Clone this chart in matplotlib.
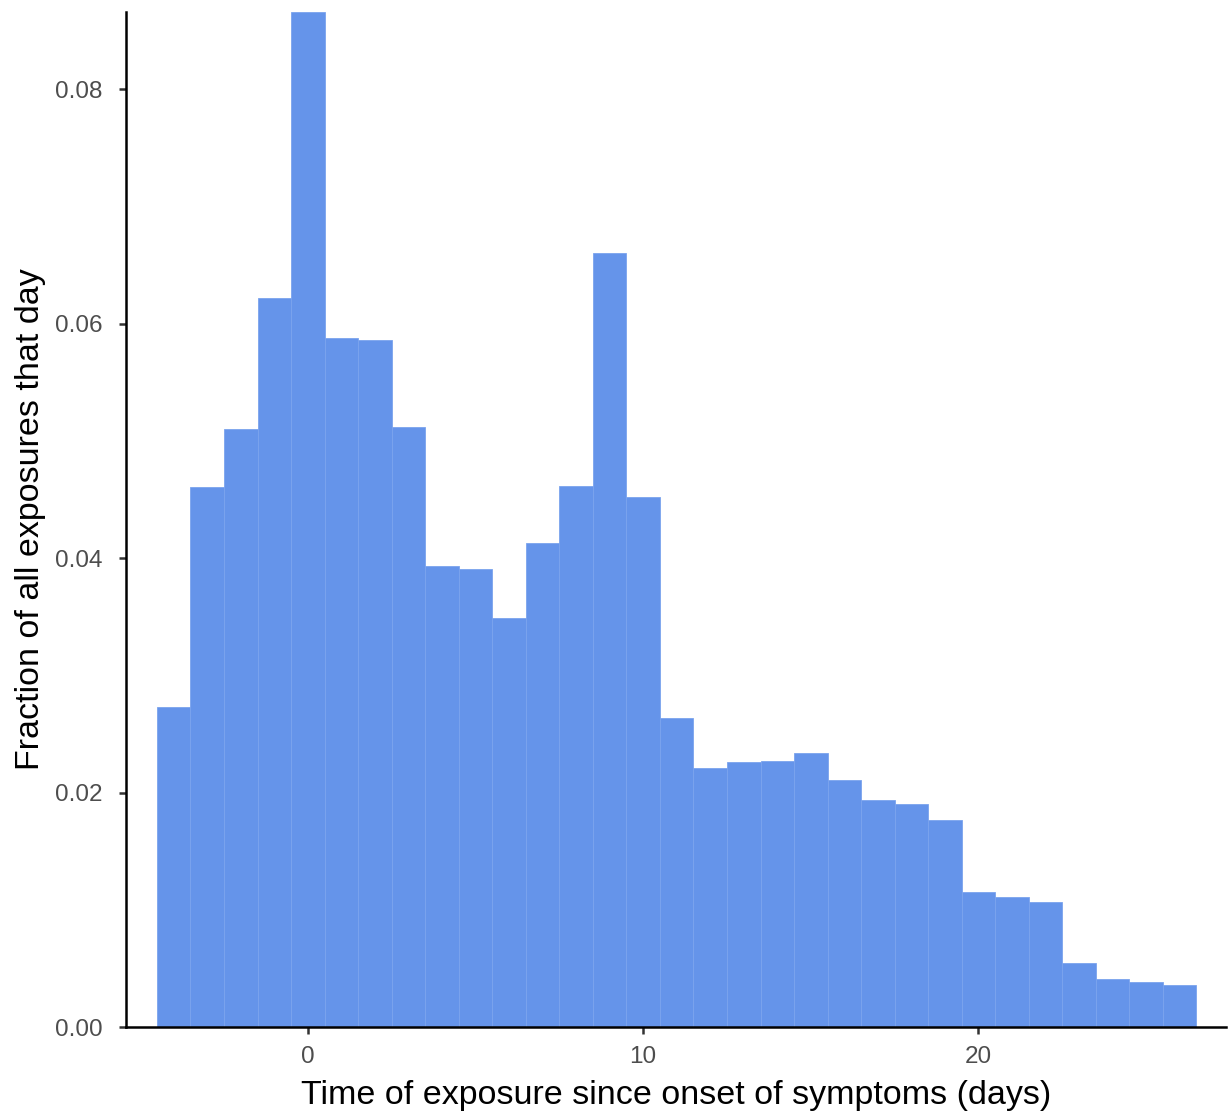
import matplotlib
matplotlib.use("Agg")
import matplotlib.pyplot as plt

days = list(range(-4, 27))
fractions = [0.0273, 0.0461, 0.0510, 0.0622, 0.0866, 0.0588, 0.0586, 0.0512,
             0.0393, 0.0391, 0.0349, 0.0413, 0.0462, 0.0660, 0.0452, 0.0264,
             0.0221, 0.0226, 0.0227, 0.0234, 0.0211, 0.0194, 0.0190, 0.0177,
             0.0115, 0.0111, 0.0107, 0.0055, 0.0041, 0.0038, 0.0036]
xticks = [0, 10, 20]
yticks = [0.00, 0.02, 0.04, 0.06, 0.08]

plt.rcParams["font.family"] = ["Liberation Sans", "DejaVu Sans"]

fig = plt.figure(figsize=(12.31, 11.15), dpi=100)
ax = fig.add_axes([0.1024, 0.0789, 0.8935, 0.9103])

ax.bar(days, fractions, width=1.0, color="#6594EA", edgecolor="#7BA3EE", linewidth=0.6)

ax.set_xlim(-5.42, 27.38)
ax.set_ylim(0, max(fractions))
ax.set_xticks(xticks)
ax.set_yticks(yticks)
ax.set_yticklabels([f"{v:.2f}" for v in yticks])

for s in ["top", "right"]:
    ax.spines[s].set_visible(False)
for s in ["left", "bottom"]:
    ax.spines[s].set_linewidth(1.8)
ax.tick_params(axis="both", labelsize=17.5, labelcolor="#4D4D4D", width=1.8, length=5,
               color="#333333")
ax.tick_params(axis="x", pad=9)
ax.tick_params(axis="y", pad=12)

ax.set_xlabel("Time of exposure since onset of symptoms (days)", fontsize=24.5, labelpad=8)
ax.set_ylabel("Fraction of all exposures that day", fontsize=24.5, labelpad=6)

fig.savefig("out.png", dpi=100)
